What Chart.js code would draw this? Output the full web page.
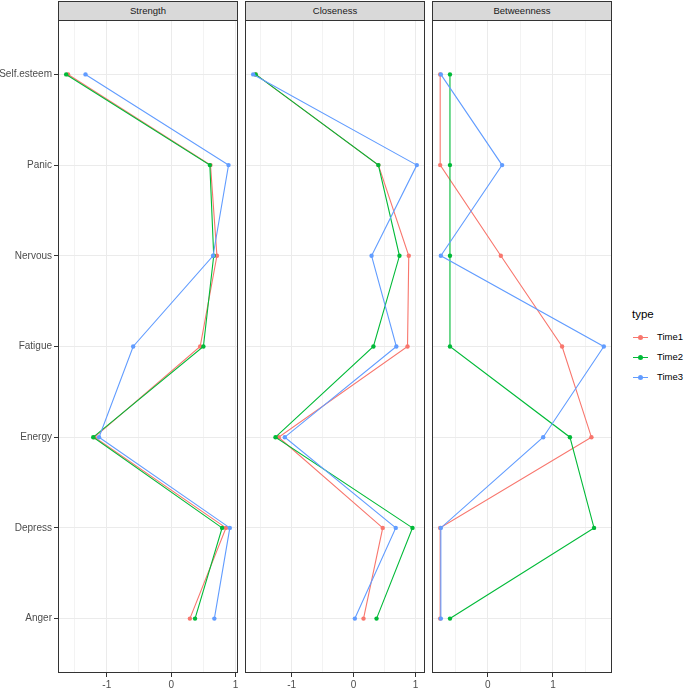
<!DOCTYPE html>
<html>
<head>
<meta charset="utf-8">
<script src="https://cdn.jsdelivr.net/npm/chart.js@4.4.1/dist/chart.umd.min.js"></script>
<style>
  html, body { margin: 0; padding: 0; background: #fff; overflow: hidden; }
  #wrap { position: relative; width: 685px; height: 689px; font-family: "Liberation Sans", Arial, sans-serif; }
  canvas { position: absolute; }
  .strip { position: absolute; top: 1px; width: 180px; height: 20px; box-sizing: border-box;
    background: #d9d9d9; border: 1px solid #333; color: #1a1a1a; font-size: 9.5px;
    text-align: center; line-height: 18px; }
  .legend-title { position: absolute; left: 632px; top: 308px; font-size: 11.5px; color: #000; }
  .key { position: absolute; left: 633px; width: 15px; height: 1px; }
  .dot { position: absolute; left: 5px; top: -2px; width: 5px; height: 5px; border-radius: 50%; }
  .key-label { position: absolute; left: 657px; font-size: 9.5px; color: #000; }
</style>
</head>
<body>
<div id="wrap">
  <div class="strip" style="left:58px">Strength</div>
  <div class="strip" style="left:245px">Closeness</div>
  <div class="strip" style="left:432px">Betweenness</div>
  <canvas id="strength" width="242" height="680" style="left:0;top:20px"></canvas>
  <canvas id="closeness" width="184" height="680" style="left:245px;top:20px"></canvas>
  <canvas id="betweenness" width="184" height="680" style="left:432px;top:20px"></canvas>
  <div class="legend-title">type</div>
  <div id="legend"></div>
</div>
<script>
// nodes from top to bottom of the plot
const nodes = ["Self.esteem", "Panic", "Nervous", "Fatigue", "Energy", "Depress", "Anger"];
const times = ["Time1", "Time2", "Time3"];
const colors = ["#F8766D", "#00BA38", "#619CFF"];

const strengthTime1 = [-1.60, 0.61, 0.71, 0.45, -1.19, 0.85, 0.29];
const strengthTime2 = [-1.63, 0.60, 0.66, 0.50, -1.21, 0.79, 0.37];
const strengthTime3 = [-1.33, 0.89, 0.65, -0.59, -1.12, 0.91, 0.67];

const closenessTime1 = [-1.58, 0.40, 0.89, 0.87, -1.21, 0.47, 0.16];
const closenessTime2 = [-1.58, 0.40, 0.74, 0.32, -1.26, 0.95, 0.37];
const closenessTime3 = [-1.62, 1.02, 0.29, 0.69, -1.11, 0.68, 0.02];

const betweennessTime1 = [-0.73, -0.73, 0.20, 1.14, 1.59, -0.73, -0.73];
const betweennessTime2 = [-0.58, -0.58, -0.58, -0.58, 1.26, 1.63, -0.58];
const betweennessTime3 = [-0.72, 0.22, -0.72, 1.78, 0.85, -0.72, -0.72];

const font = { family: "'Liberation Sans', Arial, sans-serif", size: 10 };

const panelBorder = {
  id: "panelBorder",
  afterDraw(chart) {
    const a = chart.chartArea, c = chart.ctx;
    c.save();
    c.strokeStyle = "#333333";
    c.lineWidth = 1;
    c.strokeRect(a.left + 0.5, a.top + 0.5, a.right - a.left - 1, a.bottom - a.top - 1);
    c.restore();
  }
};

function noPadding(s) {
  s.paddingLeft = s.paddingRight = s.paddingTop = s.paddingBottom = 0;
}

function makePanel(id, series, showY) {
  const all = series.flat();
  const lo0 = Math.min(...all), hi0 = Math.max(...all);
  const pad = (hi0 - lo0) * 0.05;
  const lo = lo0 - pad, hi = hi0 + pad;

  const datasets = series.map((vals, i) => ({
    label: times[i],
    data: vals.map((v, j) => ({ x: v, y: j })),
    showLine: true,
    borderColor: colors[i],
    backgroundColor: colors[i],
    borderWidth: 1.1,
    pointRadius: 2.2,
    pointBorderWidth: 0,
    tension: 0,
    order: 2 - i
  }));

  new Chart(document.getElementById(id), {
    type: "scatter",
    data: { datasets },
    plugins: [panelBorder],
    options: {
      responsive: false,
      animation: false,
      layout: { autoPadding: false, padding: { top: 0, left: 0, bottom: 0, right: 4 } },
      plugins: { legend: { display: false }, tooltip: { enabled: false } },
      scales: {
        x: {
          type: "linear",
          min: lo,
          max: hi,
          bounds: "data",
          afterBuildTicks: (s) => {
            const t = [];
            for (let v = Math.ceil(lo * 2) / 2; v <= hi + 1e-9; v += 0.5) {
              t.push({ value: Math.round(v * 2) / 2 });
            }
            s.ticks = t;
          },
          ticks: {
            autoSkip: false,
            maxRotation: 0,
            padding: 2,
            color: "#4D4D4D",
            font,
            callback: (v) => (Number.isInteger(v) ? String(v) : "")
          },
          grid: {
            color: "#EBEBEB",
            lineWidth: (ctx) => (ctx.tick && Number.isInteger(ctx.tick.value) ? 1 : 0.6),
            tickLength: 4,
            tickWidth: 1,
            tickColor: (ctx) => (ctx.tick && Number.isInteger(ctx.tick.value) ? "#333333" : "rgba(0,0,0,0)")
          },
          border: { display: false },
          afterFit: (s) => { s.height = 27; noPadding(s); }
        },
        y: {
          type: "linear",
          min: -0.6,
          max: nodes.length - 0.4,
          reverse: true,
          bounds: "data",
          afterBuildTicks: (s) => { s.ticks = nodes.map((n, i) => ({ value: i })); },
          ticks: {
            display: showY,
            autoSkip: false,
            padding: 2,
            color: "#4D4D4D",
            font,
            callback: (v) => nodes[v]
          },
          grid: {
            color: "#EBEBEB",
            lineWidth: 1,
            drawTicks: showY,
            tickLength: 4,
            tickColor: "#333333"
          },
          border: { display: false },
          afterFit: (s) => { s.width = showY ? 58 : 0; noPadding(s); }
        }
      }
    }
  });
}

makePanel("strength", [strengthTime1, strengthTime2, strengthTime3], true);
makePanel("closeness", [closenessTime1, closenessTime2, closenessTime3], false);
makePanel("betweenness", [betweennessTime1, betweennessTime2, betweennessTime3], false);

// legend
const legend = document.getElementById("legend");
times.forEach((t, i) => {
  const y = 337 + i * 20;
  const key = document.createElement("div");
  key.className = "key";
  key.style.top = y + "px";
  key.style.background = colors[i];
  const dot = document.createElement("div");
  dot.className = "dot";
  dot.style.background = colors[i];
  key.appendChild(dot);
  legend.appendChild(key);
  const lab = document.createElement("div");
  lab.className = "key-label";
  lab.style.top = (y - 6) + "px";
  lab.textContent = t;
  legend.appendChild(lab);
});
</script>
</body>
</html>
